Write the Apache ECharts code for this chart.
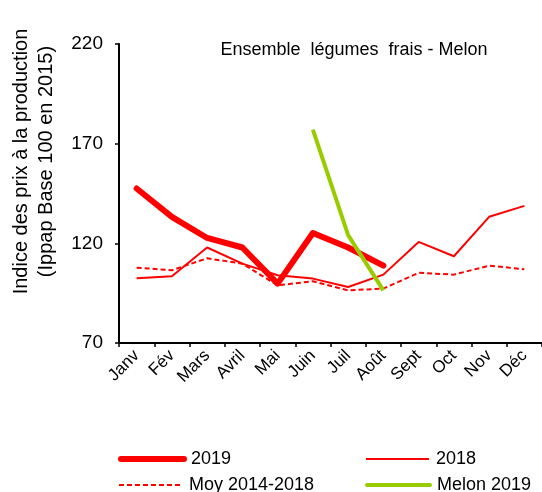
<!DOCTYPE html>
<html>
<head>
<meta charset="utf-8">
<script src="https://cdn.jsdelivr.net/npm/echarts@6/dist/echarts.min.js"></script>
<style>
  html, body { margin: 0; padding: 0; background: #fff; }
  #chart { width: 542px; height: 492px; }
</style>
</head>
<body>
<div id="chart"></div>
<script>
// mois
const months = ['Janv', 'Fév', 'Mars', 'Avril', 'Mai', 'Juin', 'Juil', 'Août', 'Sept', 'Oct', 'Nov', 'Déc']
// séries
const val2019 = [147.5, 133.3, 122.7, 117.9, 99.8, 125.2, 117.9, 108.8, null, null, null, null]
const val2018 = [102.5, 103.5, 117.9, 109.8, 104, 102.3, 98.1, 104.3, 120.7, 113.5, 133.3, 138.8]
const valMoy = [107.8, 106.5, 112.5, 109.8, 98.9, 101, 96.4, 97.3, 105.2, 104.3, 108.8, 107]
const valMelon = [null, null, null, null, null, 177.1, 124.1, 96.4, null, null, null, null]
const yTicks = [70, 120, 170, 220]

const chart = echarts.init(document.getElementById('chart'))
const font = 'Liberation Sans, Arial, sans-serif'

// une légende par entrée, placée comme dans l'original
function legendAt(name, left, top, lineStyle) {
  return {
    left: left, top: top,
    itemWidth: 63, itemHeight: 14,
    data: [name],
    itemStyle: { opacity: 0 },
    lineStyle: lineStyle,
    textStyle: { fontSize: 18, color: '#000', fontFamily: font, padding: [0, 0, 0, 2] }
  }
}

const option = {
  animation: false,
  textStyle: { fontFamily: font },
  title: {
    text: 'Ensemble  légumes  frais - Melon',
    left: 349,
    top: 36,
    textAlign: 'center',
    textStyle: { fontSize: 18, fontWeight: 'normal', color: '#000', fontFamily: font }
  },
  grid: { left: 119, right: -1, top: 44, bottom: 149 },
  legend: [
    legendAt('2019', 113, 445, { width: 6, cap: 'round' }),
    legendAt('Moy 2014-2018', 113, 471, { width: 2, type: [5, 3] }),
    legendAt('2018', 360, 445, { width: 2 }),
    legendAt('Melon 2019', 360, 471, { width: 4, cap: 'round' })
  ],
  xAxis: {
    type: 'category',
    data: months,
    boundaryGap: true,
    axisLine: { lineStyle: { color: '#000', width: 2 } },
    axisTick: { show: true, length: 4, lineStyle: { color: '#000', width: 1.5 } },
    axisLabel: { rotate: 45, color: '#000', fontSize: 17, margin: 10, interval: 0 }
  },
  yAxis: {
    type: 'value',
    min: yTicks[0],
    max: yTicks[yTicks.length - 1],
    interval: 50,
    name: 'Indice des prix à la production\n(Ippap Base 100 en 2015)',
    nameLocation: 'middle',
    nameRotate: 90,
    nameGap: 60,
    nameTextStyle: { fontSize: 20, color: '#000', lineHeight: 25, padding: [0, 0, 0, 64] },
    axisLine: { show: true, lineStyle: { color: '#000', width: 2 } },
    axisTick: { show: true, length: 4, lineStyle: { color: '#000', width: 1.5 } },
    axisLabel: { color: '#000', fontSize: 19, margin: 16 },
    splitLine: { show: false }
  },
  series: [
    {
      name: '2019', type: 'line', data: val2019, symbol: 'none', z: 4,
      lineStyle: { color: '#ff0000', width: 6, cap: 'round', join: 'round' },
      itemStyle: { color: '#ff0000' }
    },
    {
      name: '2018', type: 'line', data: val2018, symbol: 'none', z: 2,
      lineStyle: { color: '#ff0000', width: 2 },
      itemStyle: { color: '#ff0000' }
    },
    {
      name: 'Moy 2014-2018', type: 'line', data: valMoy, symbol: 'none', z: 2,
      lineStyle: { color: '#ff0000', width: 2, type: [5, 3] },
      itemStyle: { color: '#ff0000' }
    },
    {
      name: 'Melon 2019', type: 'line', data: valMelon, symbol: 'none', z: 5,
      lineStyle: { color: '#99cc00', width: 4 },
      itemStyle: { color: '#99cc00' }
    }
  ]
}
chart.setOption(option)
</script>
</body>
</html>
